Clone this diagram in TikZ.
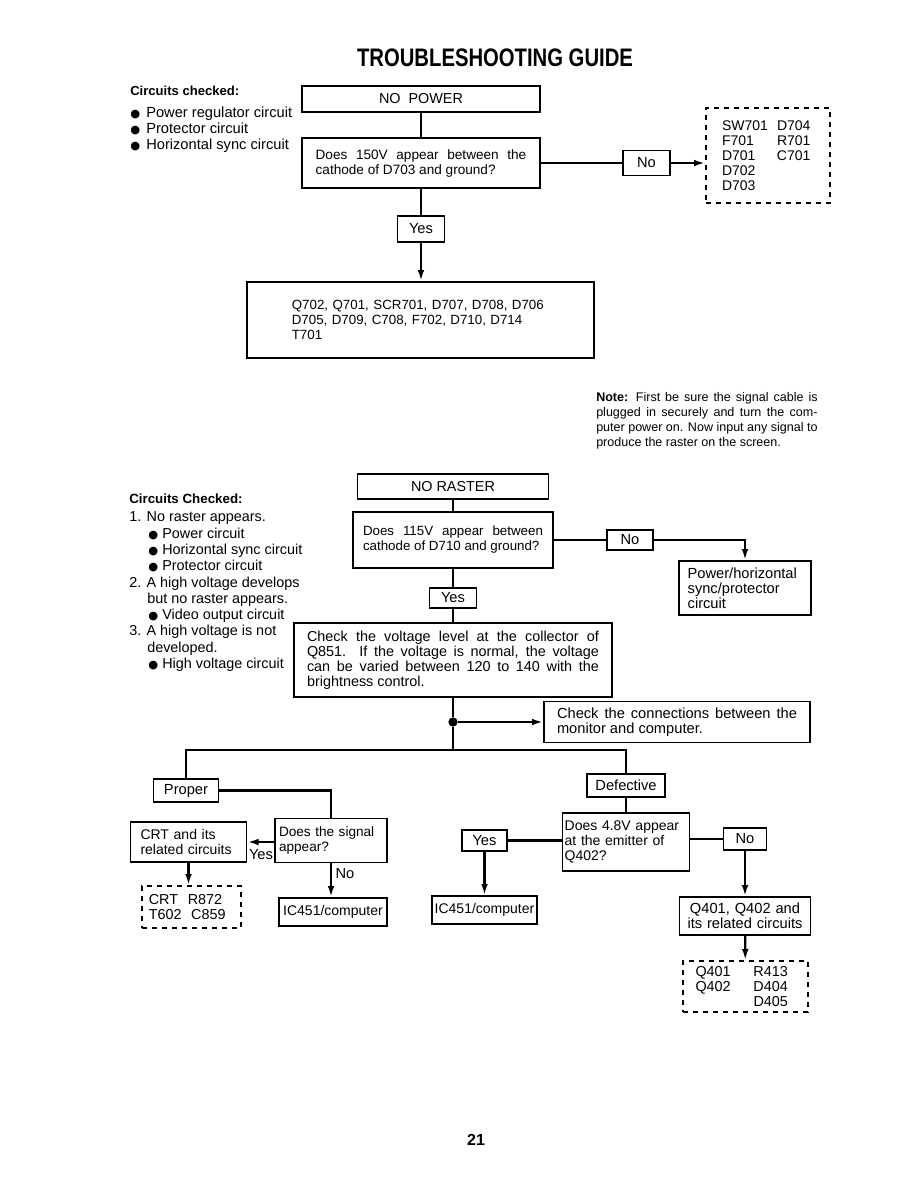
\documentclass[tikz,border=0pt]{standalone}
\usepackage{fontspec}
\setmainfont{Liberation Sans}
\newfontfamily\dotfont{DejaVu Sans}
\usepackage{graphicx}
\usetikzlibrary{arrows.meta}

\hyphenpenalty=10000
\newcommand{\bul}[1][12pt]{\makebox[#1][l]{\dotfont\fontsize{8.5}{8.5}\selectfont ●}}
\newcommand{\fs}[1]{\fontsize{#1}{11.25}\selectfont}

\begin{document}
\begin{tikzpicture}[x=0.75pt,y=-0.75pt,
        font=\fs{10.8},
        tbox/.style 2 args={draw,line width=1pt,inner sep=0pt,minimum width=#1,minimum height=#2},
        dbox/.style 2 args={tbox={#1}{#2},dash pattern=on 4pt off 3.5pt},
        plain/.style={inner sep=0pt,align=left},
        txt/.style={inner sep=0pt},
        ln/.style={line width=1.7pt},
        arr/.style={ln,-{Latex[length=8.5pt,width=5pt]}},
        jdot/.style={circle,fill,inner sep=0pt,minimum size=7pt}]
        \useasboundingbox[fill=white] (0,0) rectangle (918,1188);

        \node[txt,font=\bfseries\fontsize{19}{20}\selectfont] (ttl) at (495,58) {\scalebox{0.8}[1]{TROUBLESHOOTING GUIDE}};

        \node[plain,anchor=north west,font=\fontsize{11}{12}\selectfont] (chk1) at (130,86) {{\bfseries\fontsize{9.8}{12}\selectfont Circuits checked:}\\[4.5pt]
            \bul Power regulator circuit\\ \bul Protector circuit\\ \bul Horizontal sync circuit};

        \node[tbox={178.5pt}{19.5pt}] (nopow) at (421,99) {NO\ \ POWER};
        \node[tbox={178.5pt}{37.5pt},text width=158pt,align=justify,font=\fs{10.2}] (q150) at (421,163)
            {Does 150V appear between the\linebreak cathode of D703 and ground?};
        \node[tbox={35.25pt}{18.75pt},font=\fs{11}] (no1) at (646.5,163) {No};
        \node[dbox={93pt}{71.25pt},text width=69pt,align=left,font=\fs{10.5}] (pts1) at (768,155.5)
            {\makebox[41.25pt][l]{SW701}D704\\ \makebox[41.25pt][l]{F701}R701\\ \makebox[41.25pt][l]{D701}C701\\ D702\\ D703};
        \node[tbox={35.25pt}{19.5pt},font=\fs{11}] (yes1) at (421,229) {Yes};
        \node[tbox={260.25pt}{57pt},text width=193pt,align=left,font=\fs{10}] (pts2) at (420.5,320)
            {Q702, Q701, SCR701, D707, D708, D706\\ D705, D709, C708, F702, D710, D714\\ T701};

        \draw[ln] (nopow) -- (q150);
        \draw[ln] (q150) -- (no1);
        \draw[arr] (no1.east) -- (no1.east -| pts1.west);
        \draw[ln] (q150) -- (yes1);
        \draw[arr] (yes1) -- (pts2.north -| yes1);

        \node[txt,anchor=north west,text width=166pt,align=justify,font=\fs{9.4}] (note) at (596,392)
            {\textbf{Note:} First be sure the signal cable is\linebreak plugged in securely and turn the com-\linebreak
            puter power on. Now input any signal to\linebreak produce the raster on the screen.};

        \node[plain,anchor=north west,font=\fontsize{10.8}{12.2}\selectfont] (chk2) at (129,494) {{\bfseries\fontsize{10}{12}\selectfont Circuits Checked:}\\[1.3pt]
            1. No raster appears.\\
            \hspace*{14.25pt}\bul[10.5pt]Power circuit\\
            \hspace*{14.25pt}\bul[10.5pt]Horizontal sync circuit\\
            \hspace*{14.25pt}\bul[10.5pt]Protector circuit\\
            2. A high voltage develops\\
            \hspace*{13.5pt}but no raster appears.\\
            \hspace*{14.25pt}\bul[10.5pt]Video output circuit\\
            3. A high voltage is not\\
            \hspace*{13.5pt}developed.\\
            \hspace*{14.25pt}\bul[10.5pt]High voltage circuit};

        \node[tbox={143.25pt}{18.75pt}] (noras) at (453,486.5) {NO RASTER};
        \node[tbox={150pt}{42pt},text width=135pt,align=justify,font=\fs{10}] (q115) at (453,540)
            {Does 115V appear between\linebreak cathode of D710 and ground?};
        \node[tbox={34.5pt}{15pt},font=\fs{11}] (no2) at (630,540) {No};
        \node[tbox={99pt}{40.5pt},text width=86pt,align=left,font=\fs{11}] (pwr) at (745,588)
            {Power/horizontal\\ sync/protector\\ circuit};
        \node[tbox={35.25pt}{15pt},font=\fs{11}] (yes2) at (453,598) {Yes};
        \node[tbox={238.5pt}{55.5pt},text width=219pt,align=justify] (chkv) at (453,660)
            {Check the voltage level at the collector of\linebreak Q851.\ \ If the voltage is normal, the voltage\linebreak
            can be varied between 120 to 140 with the\linebreak brightness control.};
        \node[jdot] (jn) at (453,722) {};
        \node[tbox={199.5pt}{30.75pt},text width=180pt,align=justify,font=\fs{11}] (conn) at (677,722)
            {Check the connections between the\linebreak monitor and computer.};
        \coordinate (sp) at (453,750);

        \draw[ln] (noras) -- (q115);
        \draw[ln] (q115) -- (no2);
        \draw[arr] (no2) -| (pwr);
        \draw[ln] (q115) -- (yes2);
        \draw[ln] (yes2) -- (chkv);
        \draw[ln] (chkv) -- (jn);
        \draw[arr] (jn) -- (conn);
        \draw[ln] (jn) -- (sp);

        \node[tbox={48.75pt}{17.25pt},font=\fs{11}] (proper) at (186,790.5) {Proper};
        \node[tbox={84pt}{33pt},text width=78pt,align=left,font=\fs{10.2}] (sig) at (331,840.5) {Does the signal\\ appear?};
        \node[tbox={87pt}{30pt},text width=72pt,align=left,font=\fs{10.5}] (crt) at (188.5,842) {CRT and its\\ related circuits};
        \node[txt,font=\fs{11}] (yesA) at (261,855) {Yes};
        \node[dbox={74.25pt}{31.5pt},text width=64pt,align=left] (crtp) at (191.5,907) {CRT\ \ R872\\ T602\ \ C859};
        \node[tbox={81pt}{21pt},font=\fs{10.5}] (ic1) at (333,912) {IC451/computer};
        \node[txt,font=\fs{11}] (noA) at (345,874) {No};

        \node[tbox={58.5pt}{17.25pt},font=\fs{11}] (defect) at (626,785.5) {Defective};
        \node[tbox={95.25pt}{43.5pt},text width=92pt,align=left,font=\fs{10.5}] (q48) at (626,842)
            {Does 4.8V appear\\ at the emitter of\\ Q402?};
        \node[tbox={33.75pt}{15.75pt},font=\fs{11}] (yes3) at (484.5,840.5) {Yes};
        \node[tbox={78.75pt}{21pt},font=\fs{10.5}] (ic2) at (484.5,910) {IC451/computer};
        \node[tbox={32.25pt}{16.5pt},font=\fs{11}] (no3) at (745,839) {No};
        \node[tbox={98.25pt}{28.5pt},text width=92pt,align=center,font=\fs{11}] (q401) at (745,916)
            {Q401, Q402 and\\ its related circuits};
        \node[dbox={93.75pt}{38.25pt},text width=75pt,align=left] (qp) at (745.5,986.5)
            {\makebox[43.5pt][l]{Q401}R413\\ \makebox[43.5pt][l]{Q402}D404\\ \hspace*{43.5pt}D405};

        \draw[ln] (sp) -| (proper);
        \draw[ln] (sp) -| (defect);
        \draw[ln] (proper) -| (sig);
        \draw[arr] (sig.west |- crt.east) -- (crt.east);
        \draw[arr] (crt.south) -- (crt.south |- crtp.north);
        \draw[arr] (sig) -- (sig.south |- ic1.north);
        \draw[ln] (defect) -- (q48);
        \draw[ln] (q48.west |- yes3.east) -- (yes3.east);
        \draw[arr] (yes3) -- (ic2);
        \draw[ln] (q48.east |- no3.west) -- (no3.west);
        \draw[arr] (no3) -- (q401);
        \draw[arr] (q401) -- (qp);

        \node[txt,font=\bfseries\fontsize{12}{12}\selectfont] (pg) at (476,1140) {21};
\end{tikzpicture}
\end{document}
